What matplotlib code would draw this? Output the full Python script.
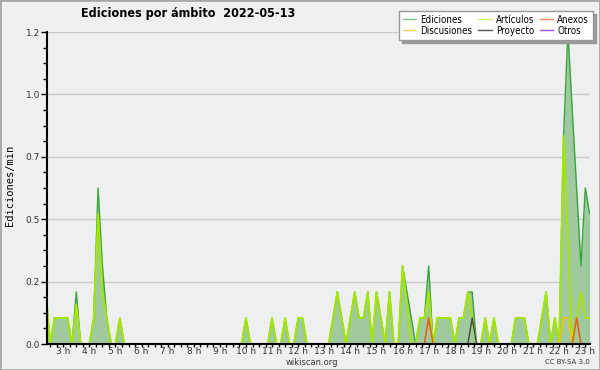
import matplotlib
matplotlib.use("Agg")
import matplotlib.pyplot as plt
from matplotlib.lines import Line2D
from matplotlib.patches import Rectangle
from matplotlib.ticker import FixedLocator, MultipleLocator, FormatStrFormatter
import numpy as np

# edits per minute, one value per 10-minute slot starting at 02:10
start_minute = 2 * 60 + 10
slot_minutes = 10

ediciones = [
    0.2, 0.2, 0, 0.1, 0.1,          # 02:10-02:50
    0.1, 0.1, 0, 0.2, 0, 0,         # 03
    0, 0.1, 0.6, 0.3, 0.1, 0,       # 04
    0, 0.1, 0, 0, 0, 0,             # 05
    0, 0, 0, 0, 0, 0,               # 06
    0, 0, 0, 0, 0, 0,               # 07
    0, 0, 0, 0, 0, 0,               # 08
    0, 0, 0, 0, 0, 0,               # 09
    0.1, 0, 0, 0, 0, 0,             # 10
    0.1, 0, 0, 0.1, 0, 0,           # 11
    0.1, 0.1, 0, 0, 0, 0,           # 12
    0, 0, 0.1, 0.2, 0.1, 0,         # 13
    0.1, 0.2, 0.1, 0.1, 0.2, 0,     # 14
    0.2, 0.1, 0, 0.2, 0, 0,         # 15
    0.3, 0.2, 0.1, 0, 0.1, 0.1,     # 16
    0.3, 0, 0.1, 0.1, 0.1, 0.1,     # 17
    0, 0.1, 0.1, 0.2, 0.2, 0,       # 18
    0, 0.1, 0, 0.1, 0, 0,           # 19
    0, 0, 0.1, 0.1, 0.1, 0,         # 20
    0, 0, 0.1, 0.2, 0, 0.1,         # 21
    0, 0.8, 1.2, 0.9, 0.6, 0.3,     # 22
    0.6, 0.5,                       # 23:00-23:10
]

articulos = [
    0.2, 0.2, 0, 0.1, 0.1,
    0.1, 0.1, 0, 0.15, 0, 0,
    0, 0.1, 0.5, 0.2, 0.1, 0,
    0, 0.1, 0, 0, 0, 0,
    0, 0, 0, 0, 0, 0,
    0, 0, 0, 0, 0, 0,
    0, 0, 0, 0, 0, 0,
    0, 0, 0, 0, 0, 0,
    0.1, 0, 0, 0, 0, 0,
    0.1, 0, 0, 0.1, 0, 0,
    0.1, 0.1, 0, 0, 0, 0,
    0, 0, 0.1, 0.2, 0.1, 0,
    0.1, 0.2, 0.1, 0.1, 0.2, 0,
    0.2, 0.1, 0, 0.2, 0, 0,
    0.3, 0.15, 0, 0, 0.1, 0.1,
    0.2, 0, 0.1, 0.1, 0.1, 0.1,
    0, 0.1, 0.1, 0.2, 0.1, 0,
    0, 0.1, 0, 0.1, 0, 0,
    0, 0, 0.1, 0.1, 0.1, 0,
    0, 0, 0.1, 0.2, 0, 0.1,
    0, 0.8, 0.4, 0, 0.1, 0.2,
    0.1, 0.1,
]

anexos = [
    0, 0, 0, 0, 0,
    0, 0, 0, 0, 0, 0,
    0, 0, 0, 0, 0, 0,
    0, 0, 0, 0, 0, 0,
    0, 0, 0, 0, 0, 0,
    0, 0, 0, 0, 0, 0,
    0, 0, 0, 0, 0, 0,
    0, 0, 0, 0, 0, 0,
    0, 0, 0, 0, 0, 0,
    0, 0, 0, 0, 0, 0,
    0, 0, 0, 0, 0, 0,
    0, 0, 0, 0, 0, 0,
    0, 0, 0, 0, 0, 0,
    0, 0, 0, 0, 0, 0,
    0, 0, 0, 0, 0, 0,
    0.1, 0, 0, 0, 0, 0,
    0, 0, 0, 0, 0, 0,
    0, 0, 0, 0, 0, 0,
    0, 0, 0, 0, 0, 0,
    0, 0, 0, 0, 0, 0,
    0, 0, 0, 0, 0.1, 0,
    0, 0,
]

discusiones = [
    0, 0, 0, 0, 0,
    0, 0, 0, 0, 0, 0,
    0, 0, 0, 0, 0, 0,
    0, 0, 0, 0, 0, 0,
    0, 0, 0, 0, 0, 0,
    0, 0, 0, 0, 0, 0,
    0, 0, 0, 0, 0, 0,
    0, 0, 0, 0, 0, 0,
    0, 0, 0, 0, 0, 0,
    0, 0, 0, 0, 0, 0,
    0, 0, 0, 0, 0, 0,
    0, 0, 0, 0, 0, 0,
    0, 0, 0, 0, 0, 0,
    0, 0, 0, 0, 0, 0,
    0, 0, 0, 0, 0, 0,
    0, 0, 0, 0, 0, 0,
    0, 0, 0, 0, 0, 0,
    0, 0, 0, 0, 0, 0,
    0, 0, 0, 0, 0, 0,
    0, 0, 0, 0, 0, 0,
    0, 0.1, 0.1, 0, 0, 0,
    0, 0,
]

proyecto = [
    0, 0, 0, 0, 0,
    0, 0, 0, 0, 0, 0,
    0, 0, 0, 0, 0, 0,
    0, 0, 0, 0, 0, 0,
    0, 0, 0, 0, 0, 0,
    0, 0, 0, 0, 0, 0,
    0, 0, 0, 0, 0, 0,
    0, 0, 0, 0, 0, 0,
    0, 0, 0, 0, 0, 0,
    0, 0, 0, 0, 0, 0,
    0, 0, 0, 0, 0, 0,
    0, 0, 0, 0, 0, 0,
    0, 0, 0, 0, 0, 0,
    0, 0, 0, 0, 0, 0,
    0, 0, 0, 0, 0, 0,
    0, 0, 0, 0, 0, 0,
    0, 0, 0, 0, 0.1, 0,
    0, 0, 0, 0, 0, 0,
    0, 0, 0, 0, 0, 0,
    0, 0, 0, 0, 0, 0,
    0, 0, 0, 0, 0, 0,
    0, 0,
]

otros = [
    0, 0, 0, 0, 0,
    0, 0, 0, 0, 0, 0,
    0, 0, 0, 0, 0, 0,
    0, 0, 0, 0, 0, 0,
    0, 0, 0, 0, 0, 0,
    0, 0, 0, 0, 0, 0,
    0, 0, 0, 0, 0, 0,
    0, 0, 0, 0, 0, 0,
    0, 0, 0, 0, 0, 0,
    0, 0, 0, 0, 0, 0,
    0, 0, 0, 0, 0, 0,
    0, 0, 0, 0, 0, 0,
    0, 0, 0, 0, 0, 0,
    0, 0, 0, 0, 0, 0,
    0, 0, 0, 0, 0, 0,
    0, 0, 0, 0, 0, 0,
    0, 0, 0, 0, 0, 0,
    0, 0, 0, 0, 0, 0,
    0, 0, 0, 0, 0, 0,
    0, 0, 0, 0, 0, 0,
    0, 0, 0, 0, 0, 0,
    0, 0,
]

hour_ticks = list(range(3, 24))
hour_labels = [f"{h} h" for h in hour_ticks]

hours = (start_minute + np.arange(len(ediciones)) * slot_minutes) / 60.0

fig = plt.figure(figsize=(6, 3.7), dpi=100, facecolor="#f0f0f0")
ax = fig.add_axes([47 / 600, 26 / 370, 543 / 600, 312 / 370])
ax.set_facecolor("#eeeff1")

# outer frame
fig.patches.append(Rectangle((0, 0), 1, 1, transform=fig.transFigure, fill=False,
                             edgecolor="#a8a8a8", linewidth=2))

ax.fill_between(hours, 0, ediciones, color="#9fc99f", linewidth=0, zorder=1)
ax.plot(hours, ediciones, color="#3aa53a", linewidth=1.0, zorder=2)
ax.plot(hours, articulos, color="#a6e600", linewidth=1.4, zorder=3)
ax.plot(hours, discusiones, color="#f5c400", linewidth=1.1, zorder=3)
ax.plot(hours, anexos, color="#ee5a10", linewidth=1.1, zorder=3)
ax.plot(hours, proyecto, color="#444444", linewidth=1.0, zorder=3)
ax.plot(hours, otros, color="#9040e0", linewidth=1.0, zorder=3)

ax.set_xlim(2.377, 23.18)
ax.set_ylim(0, 1.2)

ax.yaxis.set_major_locator(FixedLocator(np.linspace(0, 1.2, 6)))
ax.yaxis.set_major_formatter(FormatStrFormatter("%.1f"))
ax.yaxis.set_minor_locator(MultipleLocator(0.06))
ax.xaxis.set_major_locator(FixedLocator(hour_ticks))
ax.set_xticklabels(hour_labels)
ax.xaxis.set_minor_locator(MultipleLocator(0.25))

ax.tick_params(axis="y", which="major", length=4, width=1, labelsize=6.5, pad=1,
               labelcolor="#333333")
ax.tick_params(axis="y", which="minor", length=3, width=1)
ax.tick_params(axis="x", which="major", length=2.2, width=1, labelsize=6.5, pad=0,
               labelcolor="#333333")
ax.tick_params(axis="x", which="minor", length=2.2, width=1)

ax.yaxis.grid(True, which="major", color="#cccccc", linewidth=1)
ax.set_axisbelow(True)

for side in ["top", "right"]:
    ax.spines[side].set_visible(False)
for side in ["left", "bottom"]:
    ax.spines[side].set_linewidth(1.5)
    ax.spines[side].set_zorder(5)

fig.text(188 / 600, 1 - 14 / 370, "Ediciones por ámbito  2022-05-13", ha="center", va="center",
         fontsize=9, fontweight="bold", fontstretch="condensed")
fig.text(10 / 600, 1 - 185 / 370, "Ediciones/min", rotation=90, ha="center", va="center",
         family="DejaVu Sans Mono", fontsize=7.5)
fig.text(312 / 600, 1 - 362.5 / 370, "wikiscan.org", ha="center", va="center", fontsize=6,
         color="#333333")
fig.text(590 / 600, 1 - 362.5 / 370, "CC BY-SA 3.0", ha="right", va="center", fontsize=5,
         color="#333333")

# legend, column-major order so rows read Ediciones/Artículos/Anexos, Discusiones/Proyecto/Otros
handles = [
    Line2D([], [], color="#7fc97f", lw=1),
    Line2D([], [], color="#f5d060", lw=1),
    Line2D([], [], color="#c8ee66", lw=1),
    Line2D([], [], color="#555555", lw=1),
    Line2D([], [], color="#ee8855", lw=1),
    Line2D([], [], color="#9955ee", lw=1),
]
labels = ["Ediciones", "Discusiones", "Artículos", "Proyecto", "Anexos", "Otros"]
leg = ax.legend(handles, labels, ncol=3, loc="upper right", bbox_to_anchor=(593 / 600, 1 - 11 / 370),
                bbox_transform=fig.transFigure, prop={"size": 7, "stretch": "condensed"},
                frameon=True, fancybox=False, shadow={"color": "#999999", "alpha": 1},
                edgecolor="#999999", borderpad=0.4, handlelength=1.4, columnspacing=0.6,
                labelspacing=0.1, handletextpad=0.4, borderaxespad=0)
leg.get_frame().set_facecolor("white")
leg.set_zorder(10)

fig.savefig("out.png", dpi=100, facecolor=fig.get_facecolor())
